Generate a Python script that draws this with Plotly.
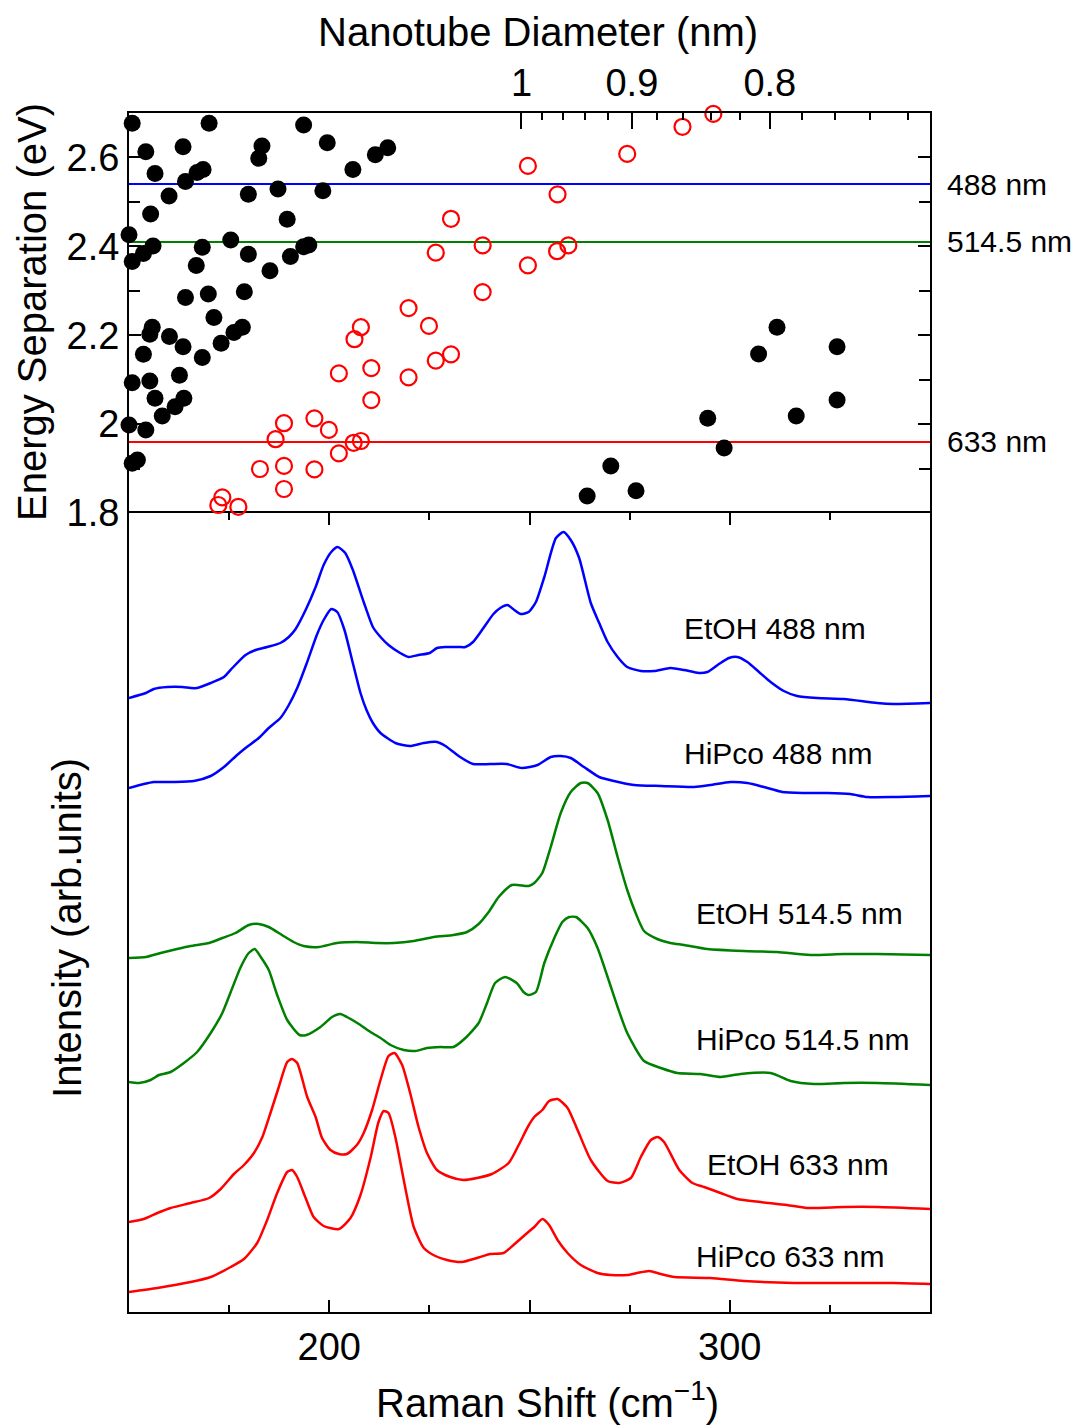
import plotly.graph_objects as go

# ---------------- Kataura plot data (top panel) ----------------
black_shift = [150.8, 154.2, 156.5, 170.0, 163.5, 160.0, 164.1, 167.0, 168.5, 155.4,
               150.0, 150.8, 153.6, 156.0, 168.3, 166.8, 175.4, 179.8, 179.8, 182.4,
               183.2, 187.2, 189.5, 190.3, 185.2, 178.8, 169.8, 164.1, 171.2, 178.3,
               176.2, 173.0, 160.1, 163.5, 168.3, 155.8, 155.2, 153.6, 150.8, 155.2,
               162.6, 156.5, 163.7, 161.5, 158.3, 150.0, 154.2, 150.8, 152.1, 193.6,
               199.5, 198.4, 205.9, 211.5, 214.6, 193.6, 194.9,
               264.4, 270.3, 276.6, 294.5, 298.6, 307.2, 311.8, 316.6, 326.8, 326.8]
black_energy = [2.677, 2.613, 2.564, 2.677, 2.624, 2.513, 2.546, 2.566, 2.573, 2.473,
                2.426, 2.366, 2.384, 2.401, 2.398, 2.357, 2.414, 2.517, 2.382, 2.598,
                2.626, 2.529, 2.461, 2.377, 2.345, 2.298, 2.293, 2.285, 2.240, 2.218,
                2.206, 2.182, 2.197, 2.174, 2.150, 2.218, 2.202, 2.157, 2.093, 2.097,
                2.110, 2.058, 2.058, 2.039, 2.018, 1.998, 1.987, 1.912, 1.919, 2.673,
                2.633, 2.525, 2.573, 2.606, 2.622, 2.399, 2.403,
                1.838, 1.906, 1.850, 2.013, 1.946, 2.158, 2.218, 2.018, 2.174, 2.054]

red_shift = [172.3, 173.3, 177.3, 182.7, 188.7, 188.7, 186.6, 188.7, 196.3, 199.9,
             196.3, 202.4, 206.1, 207.9, 210.5, 202.4, 210.5, 206.3, 207.9, 219.8,
             219.8, 224.9, 226.6, 230.4, 226.6, 230.4, 238.3, 238.3, 249.6, 249.6,
             257.0, 256.9, 259.7, 274.4, 288.2, 295.9]
red_energy = [1.818, 1.835, 1.814, 1.899, 1.906, 1.854, 1.966, 2.002, 2.013, 1.987,
              1.898, 1.934, 1.958, 1.962, 2.054, 2.114, 2.126, 2.191, 2.218, 2.105,
              2.261, 2.221, 2.143, 2.157, 2.386, 2.462, 2.402, 2.297, 2.581, 2.357,
              2.517, 2.389, 2.402, 2.608, 2.669, 2.698]

laser_names = ["488 nm", "514.5 nm", "633 nm"]
laser_energy = [2.54, 2.41, 1.96]
laser_colors = ["#0000FF", "#008000", "#FF0000"]

diam_major = [1, 0.9, 0.8]
diam_major_text = ["1", "0.9", "0.8"]
diam_minor = [0.98, 0.96, 0.94, 0.92, 0.88, 0.86, 0.84, 0.82, 0.78, 0.76, 0.74, 0.72]

# ---------------- Raman spectra (bottom panel) ----------------
etoh488_x = [150, 154.2, 156.2, 159.6, 163.3, 165.4, 167.0, 170.4, 173.7, 175.8,
             179.1, 181.6, 184.5, 187.8, 189.9, 191.6, 194.1, 196.6, 198.6, 200.5,
             202.1, 204.0, 205.9, 208.6, 210.9, 212.8, 214.8, 217.7, 219.8, 222.3,
             225.1, 226.9, 229.0, 232.3, 234.0, 235.9, 238.5, 241.0, 242.7, 244.5,
             246.2, 247.8, 249.8, 251.6, 253.7, 256.6, 258.5, 260.3, 262.4, 265.3,
             267.4, 269.5, 272.0, 274.4, 277.8, 281.1, 285.2, 288.6, 292.3, 294.4,
             297.3, 299.8, 301.9, 304.4, 307.3, 310.2, 313.5, 316.8, 321.8, 328.5,
             336.8, 340.9, 350]
etoh488_y = [614, 619, 623, 625, 625, 624, 624, 629, 635, 644,
             657, 662, 665, 669, 675, 683, 702, 725, 747, 760,
             765, 759, 742, 710, 685, 675, 667, 659, 655, 657,
             659, 664, 665, 665, 665, 670, 684, 698, 704, 707,
             702, 698, 700, 710, 735, 774, 780, 772, 754, 709,
             689, 670, 655, 645, 641, 641, 644, 642, 639, 640,
             648, 654, 655, 650, 640, 630, 621, 616, 614, 613,
             609, 608, 609]

hipco488_x = [150, 153.7, 156.2, 161.2, 166.2, 170.4, 173.7, 177.0, 179.1, 182.4,
              184.9, 187.8, 189.9, 192.0, 194.4, 196.9, 198.6, 200.5, 202.0, 203.8,
              205.7, 207.8, 209.3, 210.9, 212.8, 216.5, 220.2, 223.6, 226.9, 229.0,
              232.3, 235.9, 240.2, 244.3, 248.1, 252.0, 255.3, 257.8, 260.3, 263.6,
              267.4, 271.1, 276.1, 282.8, 291.1, 295.2, 300.2, 304.4, 308.5, 313.1,
              318.5, 324.3, 330.1, 334.3, 340.9, 350]
hipco488_y = [524, 528, 530, 530, 531, 536, 545, 557, 564, 574,
              584, 594, 607, 624, 649, 677, 692, 703, 700, 682,
              652, 619, 602, 589, 579, 569, 566, 569, 570, 566,
              556, 548, 548, 548, 544, 547, 555, 556, 554, 545,
              535, 531, 527, 526, 525, 527, 530, 529, 525, 520,
              519, 519, 518, 515, 515, 516]

etoh514_x = [150, 154.2, 157.9, 162.0, 165.4, 170.0, 173.3, 176.6, 179.9, 182.4,
             184.9, 188.2, 191.1, 193.6, 197.4, 201.9, 206.9, 211.9, 216.1, 221.1,
             226.1, 231.0, 234.4, 237.3, 239.8, 242.3, 245.6, 249.8, 251.2, 253.2,
             255.3, 257.8, 260.3, 262.8, 264.5, 267.0, 269.5, 272.0, 274.4, 276.5,
             278.6, 281.9, 285.2, 288.6, 294.4, 303.5, 311.8, 320.1, 328.5, 336.8,
             350]
etoh514_y = [354, 355, 359, 363, 366, 369, 374, 379, 387, 388,
             385, 377, 370, 366, 365, 369, 370, 369, 369, 371,
             375, 377, 380, 388, 400, 415, 427, 426, 429, 439,
             465, 499, 520, 529, 529, 519, 492, 455, 422, 399,
             381, 373, 369, 367, 363, 361, 360, 357, 358, 358,
             357]

hipco514_x = [150, 152.5, 155.4, 157.5, 160.4, 163.7, 167.0, 170.4, 173.3, 175.4,
              177.9, 179.9, 181.4, 182.9, 184.9, 187.0, 189.5, 192.6, 194.3, 197.8,
              200.7, 202.8, 204.4, 207.4, 210.3, 212.8, 215.3, 218.6, 221.5, 224.4,
              227.8, 231.0, 234.0, 237.3, 239.4, 241.4, 243.9, 246.8, 248.5, 249.7,
              251.6, 253.7, 256.2, 258.2, 259.9, 261.6, 264.5, 267.0, 269.5, 272.0,
              274.4, 278.6, 282.8, 286.9, 292.7, 297.7, 302.7, 310.2, 315.2, 321.0,
              328.5, 336.8, 350]
hipco514_y = [230, 229, 232, 237, 240, 249, 260, 279, 299, 320,
              345, 359, 363, 355, 342, 317, 292, 277, 277, 285,
              295, 298, 295, 288, 280, 274, 267, 262, 261, 264,
              265, 265, 274, 289, 309, 329, 335, 329, 320, 317,
              320, 349, 374, 390, 395, 395, 384, 364, 335, 305,
              279, 251, 244, 239, 238, 235, 238, 239, 231, 228,
              229, 229, 227]

etoh633_x = [150, 153.7, 157.1, 160.4, 165.4, 170.0, 172.9, 176.2, 178.7, 181.2,
             183.3, 185.4, 187.4, 189.5, 190.7, 192.0, 194.5, 196.6, 198.2, 200.3,
             202.4, 204.4, 206.9, 208.6, 210.7, 212.8, 214.8, 216.3, 218.2, 220.2,
             222.3, 224.4, 226.9, 230.2, 233.5, 236.9, 240.6, 244.8, 247.3, 249.7,
             251.2, 253.2, 254.9, 257.0, 259.5, 262.0, 265.3, 269.5, 272.4, 275.3,
             277.8, 280.3, 282.0, 283.6, 287.4, 290.7, 293.6, 297.7, 301.9, 307.7,
             314.3, 319.3, 328.5, 336.8, 350]
etoh633_y = [90, 93, 99, 104, 109, 114, 123, 138, 147, 159,
             175, 200, 225, 250, 253, 249, 215, 195, 174, 162,
             158, 158, 167, 179, 202, 232, 256, 259, 247, 219,
             185, 159, 142, 135, 132, 134, 138, 149, 167, 186,
             195, 202, 211, 213, 204, 182, 152, 131, 129, 134,
             155, 172, 175, 170, 142, 129, 125, 119, 113, 110,
             107, 104, 105, 105, 103]

hipco633_x = [150, 157.1, 165.4, 170.4, 175.4, 178.7, 182.0, 184.5, 187.0, 189.5,
              190.7, 192.0, 194.1, 196.1, 198.6, 202.4, 205.3, 207.8, 210.3, 212.3,
              213.6, 214.8, 216.5, 218.6, 221.1, 223.6, 226.5, 229.4, 233.1, 236.9,
              240.2, 243.5, 246.0, 249.7, 251.2, 253.2, 254.9, 257.0, 259.5, 262.8,
              267.0, 270.3, 274.4, 276.9, 279.9, 282.8, 286.2, 295.2, 303.5, 316.0,
              328.5, 340.9, 350]
hipco633_y = [20, 24, 30, 35, 45, 53, 69, 92, 119, 140,
              142, 135, 114, 95, 86, 83, 94, 117, 154, 190,
              201, 199, 175, 132, 85, 64, 56, 52, 50, 54,
              58, 59, 67, 80, 85, 93, 87, 72, 59, 47,
              39, 37, 37, 39, 41, 38, 35, 34, 31, 29,
              29, 29, 28]

spectra = [
    ("EtOH 488 nm", etoh488_x, etoh488_y, "#0000FF", 288.2, 684),
    ("HiPco 488 nm", hipco488_x, hipco488_y, "#0000FF", 288.2, 559),
    ("EtOH 514.5 nm", etoh514_x, etoh514_y, "#008000", 291.1, 399),
    ("HiPco 514.5 nm", hipco514_x, hipco514_y, "#008000", 291.1, 273),
    ("EtOH 633 nm", etoh633_x, etoh633_y, "#FF0000", 293.9, 148),
    ("HiPco 633 nm", hipco633_x, hipco633_y, "#FF0000", 291.1, 56),
]

FONT = "Arial, Liberation Sans, sans-serif"
TICK = 38
TITLE = 40
LAB = 30

fig = go.Figure()

# laser lines
for name, e, c in zip(laser_names, laser_energy, laser_colors):
    fig.add_trace(go.Scatter(x=[150, 350], y=[e, e], mode="lines",
                             line=dict(color=c, width=2), xaxis="x2", yaxis="y2",
                             showlegend=False, hoverinfo="skip"))

fig.add_trace(go.Scatter(x=black_shift, y=black_energy, mode="markers",
                         marker=dict(color="black", size=17, line=dict(width=0)),
                         xaxis="x2", yaxis="y2", showlegend=False, cliponaxis=False))
fig.add_trace(go.Scatter(x=red_shift, y=red_energy, mode="markers",
                         marker=dict(color="#FF0000", size=16, symbol="circle-open",
                                     line=dict(width=2.2, color="#FF0000")),
                         xaxis="x2", yaxis="y2", showlegend=False, cliponaxis=False))
# invisible trace for the diameter axis
fig.add_trace(go.Scatter(x=[150, 350], y=[1.8, 1.8], mode="markers",
                         marker=dict(opacity=0), xaxis="x3", yaxis="y2",
                         showlegend=False, hoverinfo="skip"))

for name, xs, ys, c, lx, ly in spectra:
    fig.add_trace(go.Scatter(x=xs, y=ys, mode="lines",
                             line=dict(color=c, width=2.5, shape="spline", smoothing=0.6),
                             xaxis="x", yaxis="y", showlegend=False))

split = (1312 - 513) / 1199.0

axis_common = dict(showgrid=False, zeroline=False, linecolor="black", linewidth=2,
                   tickcolor="black", tickwidth=2,
                   tickfont=dict(family=FONT, size=TICK, color="black"))

annotations = []
for name, xs, ys, c, lx, ly in spectra:
    annotations.append(dict(x=lx, y=ly, xref="x", yref="y", text=name, showarrow=False,
                            xanchor="left", yanchor="middle",
                            font=dict(family=FONT, size=LAB, color="black")))
for name, e in zip(laser_names, laser_energy):
    annotations.append(dict(x=1.019, y=e, xref="paper", yref="y2", text=name,
                            showarrow=False, xanchor="left", yanchor="middle",
                            font=dict(family=FONT, size=LAB, color="black")))
annotations += [
    dict(x=0.5106, y=1.0676, xref="paper", yref="paper", text="Nanotube Diameter (nm)",
         showarrow=False, xanchor="center", yanchor="middle",
         font=dict(family=FONT, size=TITLE, color="black")),
    dict(x=0.523, y=-0.0734, xref="paper", yref="paper",
         text="Raman Shift (cm<sup>−1</sup>)", showarrow=False,
         xanchor="center", yanchor="middle",
         font=dict(family=FONT, size=TITLE, color="black")),
    dict(x=-0.1211, y=0.834, xref="paper", yref="paper", text="Energy Separation (eV)",
         showarrow=False, textangle=-90, xanchor="center", yanchor="middle",
         font=dict(family=FONT, size=TITLE, color="black")),
    dict(x=-0.0774, y=0.3203, xref="paper", yref="paper", text="Intensity (arb.units)",
         showarrow=False, textangle=-90, xanchor="center", yanchor="middle",
         font=dict(family=FONT, size=TITLE, color="black")),
]

fig.update_layout(
    width=1073, height=1420,
    margin=dict(l=121, r=151, t=105, b=116),
    paper_bgcolor="white", plot_bgcolor="white",
    font=dict(family=FONT, color="black"),
    xaxis=dict(axis_common, domain=[0, 1], anchor="y", range=[150, 350],
               tickmode="array", tickvals=[150, 200, 250, 300, 350],
               ticktext=["", "200", "", "300", ""], ticks="inside", ticklen=12,
               mirror="ticks", showline=True,
               minor=dict(tickmode="array", tickvals=[175, 225, 275, 325],
                          ticks="inside", ticklen=7, tickwidth=2, tickcolor="black")),
    yaxis=dict(axis_common, domain=[0, split], anchor="x", range=[0, 799],
               showticklabels=False, ticks="", showline=True, mirror=True),
    xaxis2=dict(axis_common, domain=[0, 1], anchor="y2", range=[150, 350],
                showticklabels=False, ticks="", showline=False),
    yaxis2=dict(axis_common, domain=[split, 1], anchor="x2", range=[1.8, 2.7],
                tickmode="array", tickvals=[1.8, 2.0, 2.2, 2.4, 2.6],
                ticktext=["1.8", "2", "2.2", "2.4", "2.6"],
                ticks="inside", ticklen=12, showline=True, mirror="ticks",
                minor=dict(tickmode="array", tickvals=[1.9, 2.1, 2.3, 2.5],
                           ticks="inside", ticklen=11, tickwidth=2, tickcolor="black")),
    xaxis3=dict(axis_common, overlaying="x2", side="top", anchor="y2", range=[150, 350],
                tickmode="array", tickvals=[248.0 / d for d in diam_major],
                ticktext=diam_major_text, ticks="inside", ticklen=16, showline=True,
                minor=dict(tickmode="array", tickvals=[248.0 / d for d in diam_minor],
                           ticks="inside", ticklen=7, tickwidth=2, tickcolor="black")),
    annotations=annotations,
)

fig.write_html("out.html")
